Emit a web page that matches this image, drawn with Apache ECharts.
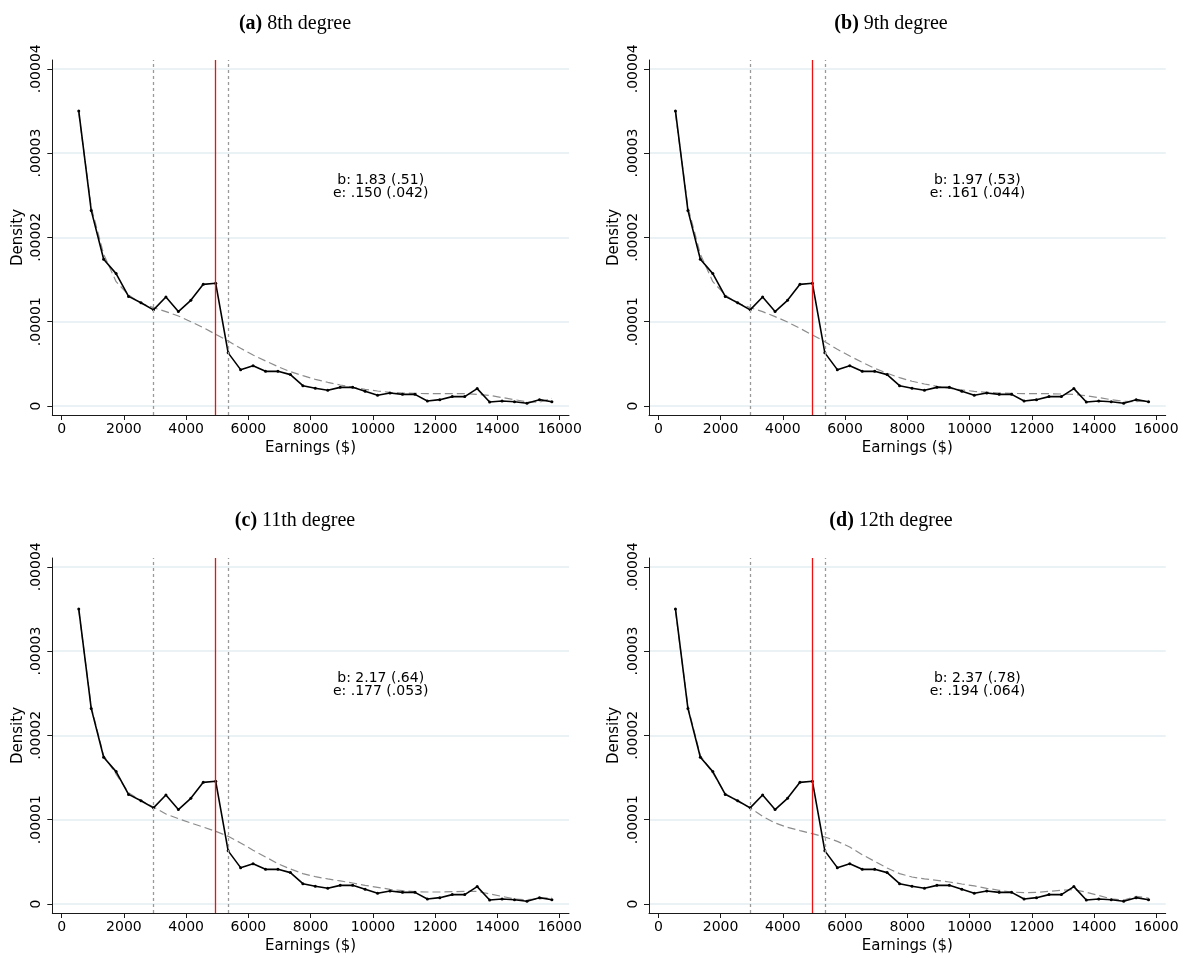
<!DOCTYPE html>
<html>
<head>
<meta charset="utf-8">
<title>Earnings density with polynomial counterfactuals</title>
<script src="https://cdn.jsdelivr.net/npm/echarts@6/dist/echarts.min.js"></script>
<style>
  html, body { margin: 0; padding: 0; background: #ffffff; }
  #chart { width: 1189px; height: 958px; }
</style>
</head>
<body>
<div id="chart"></div>
<script>
// Bin midpoints of the earnings histogram ($)
const earnings = [550, 950, 1350, 1750, 2150, 2550, 2950, 3350, 3750, 4150, 4550, 4950, 5350,
  5750, 6150, 6550, 6950, 7350, 7750, 8150, 8550, 8950, 9350, 9750, 10150, 10550, 10950,
  11350, 11750, 12150, 12550, 12950, 13350, 13750, 14150, 14550, 14950, 15350, 15750];

// Empirical density in each bin
const density = [3.50e-5, 2.32e-5, 1.74e-5, 1.57e-5, 1.30e-5, 1.225e-5, 1.14e-5, 1.293e-5, 1.12e-5,
  1.253e-5, 1.443e-5, 1.455e-5, 0.63e-5, 0.431e-5, 0.478e-5, 0.411e-5, 0.411e-5, 0.372e-5,
  0.241e-5, 0.21e-5, 0.186e-5, 0.221e-5, 0.221e-5, 0.174e-5, 0.127e-5, 0.154e-5, 0.138e-5,
  0.138e-5, 0.059e-5, 0.075e-5, 0.111e-5, 0.111e-5, 0.206e-5, 0.047e-5, 0.059e-5, 0.051e-5,
  0.032e-5, 0.075e-5, 0.051e-5];

// Counterfactual density from the polynomial fits of each degree
const fit8 = [3.47e-5, 2.36e-5, 1.80e-5, 1.475e-5, 1.317e-5, 1.218e-5, 1.166e-5, 1.119e-5, 1.068e-5,
  1.00e-5, 0.929e-5, 0.85e-5, 0.771e-5, 0.684e-5, 0.605e-5, 0.534e-5, 0.467e-5, 0.407e-5,
  0.36e-5, 0.316e-5, 0.281e-5, 0.249e-5, 0.221e-5, 0.198e-5, 0.178e-5, 0.162e-5, 0.154e-5,
  0.150e-5, 0.146e-5, 0.146e-5, 0.146e-5, 0.146e-5, 0.138e-5, 0.125e-5, 0.10e-5, 0.075e-5,
  0.05e-5, 0.045e-5, 0.09e-5];
const fit9 = [3.47e-5, 2.36e-5, 1.80e-5, 1.475e-5, 1.317e-5, 1.218e-5, 1.166e-5, 1.119e-5, 1.06e-5,
  0.996e-5, 0.921e-5, 0.842e-5, 0.763e-5, 0.672e-5, 0.593e-5, 0.518e-5, 0.447e-5, 0.388e-5,
  0.336e-5, 0.293e-5, 0.261e-5, 0.233e-5, 0.21e-5, 0.19e-5, 0.174e-5, 0.162e-5, 0.154e-5,
  0.150e-5, 0.146e-5, 0.146e-5, 0.146e-5, 0.142e-5, 0.138e-5, 0.12e-5, 0.10e-5, 0.075e-5,
  0.055e-5, 0.05e-5, 0.07e-5];
const fit11 = [3.48e-5, 2.34e-5, 1.76e-5, 1.54e-5, 1.32e-5, 1.226e-5, 1.15e-5, 1.068e-5, 1.012e-5,
  0.961e-5, 0.913e-5, 0.862e-5, 0.803e-5, 0.724e-5, 0.637e-5, 0.558e-5, 0.478e-5, 0.415e-5,
  0.36e-5, 0.324e-5, 0.297e-5, 0.273e-5, 0.249e-5, 0.221e-5, 0.198e-5, 0.174e-5, 0.158e-5,
  0.146e-5, 0.142e-5, 0.142e-5, 0.146e-5, 0.15e-5, 0.15e-5, 0.12e-5, 0.09e-5, 0.06e-5,
  0.05e-5, 0.06e-5, 0.08e-5];
const fit12 = [3.48e-5, 2.34e-5, 1.76e-5, 1.554e-5, 1.31e-5, 1.218e-5, 1.139e-5, 1.04e-5, 0.961e-5,
  0.909e-5, 0.87e-5, 0.834e-5, 0.795e-5, 0.743e-5, 0.676e-5, 0.585e-5, 0.506e-5, 0.427e-5,
  0.36e-5, 0.32e-5, 0.297e-5, 0.281e-5, 0.261e-5, 0.237e-5, 0.214e-5, 0.186e-5, 0.162e-5,
  0.142e-5, 0.134e-5, 0.138e-5, 0.15e-5, 0.162e-5, 0.17e-5, 0.14e-5, 0.10e-5, 0.06e-5,
  0.045e-5, 0.09e-5, 0.07e-5];

// Panel captions, estimates and reference lines
const panelLetters = ['(a)', '(b)', '(c)', '(d)'];
const panelCaptions = ['8th degree', '9th degree', '11th degree', '12th degree'];
const fits = [fit8, fit9, fit11, fit12];
const bunchingText = ['b: 1.83 (.51)', 'b: 1.97 (.53)', 'b: 2.17 (.64)', 'b: 2.37 (.78)'];
const elasticityText = ['e: .150 (.042)', 'e: .161 (.044)', 'e: .177 (.053)', 'e: .194 (.064)'];
const kink = 4950;
const windowBounds = [2950, 5350];
const estimateAnchor = [10250, 2.6e-5];

// Axis ticks
const xTickValues = [0, 2000, 4000, 6000, 8000, 10000, 12000, 14000, 16000];
const xTickLabels = ['0', '2000', '4000', '6000', '8000', '10000', '12000', '14000', '16000'];
const yTickValues = [0, 1e-5, 2e-5, 3e-5, 4e-5];
const yTickLabels = ['0', '.00001', '.00002', '.00003', '.00004'];

// Layout of the 2x2 panel grid
const colLeft = [52.3, 649];
const rowTop = [60, 558];
const plotW = 516.7;
const plotH = 355;
const captionX = [290, 886];
const captionTop = [8, 505];

const sans = '"DejaVu Sans", sans-serif';
const serif = '"Liberation Serif", "Times New Roman", serif';
const ink = '#000000';

function nearestLabel(values, labels, v) {
  let best = 0;
  for (let k = 1; k < values.length; k++) {
    if (Math.abs(values[k] - v) < Math.abs(values[best] - v)) best = k;
  }
  return labels[best];
}

const grids = [], xAxes = [], yAxes = [], series = [], titles = [];

for (let i = 0; i < 4; i++) {
  const c = i % 2, r = Math.floor(i / 2);
  grids.push({ left: colLeft[c], top: rowTop[r], width: plotW, height: plotH, containLabel: false });

  titles.push({
    text: '{b|' + panelLetters[i] + '} ' + panelCaptions[i],
    left: captionX[c], top: captionTop[r], textAlign: 'center',
    textStyle: {
      fontFamily: serif, fontSize: 20, fontWeight: 'normal', color: '#000', lineHeight: 22,
      rich: { b: { fontFamily: serif, fontSize: 20, fontWeight: 'bold', color: '#000', lineHeight: 22 } }
    }
  });

  xAxes.push({
    type: 'value', gridIndex: i, min: -300, max: 16300,
    name: 'Earnings ($)', nameLocation: 'middle', nameGap: 26, nameMoveOverlap: false,
    nameTextStyle: { fontFamily: sans, fontSize: 15, color: ink },
    axisLine: { show: true, onZero: false, lineStyle: { color: '#1a1a1a', width: 1 } },
    axisTick: { show: true, length: 5, customValues: xTickValues, lineStyle: { color: '#1a1a1a' } },
    axisLabel: {
      customValues: xTickValues, fontFamily: sans, fontSize: 14, color: ink, margin: 7,
      formatter: function (v) { return nearestLabel(xTickValues, xTickLabels, v); }
    },
    splitLine: { show: false }
  });

  yAxes.push({
    type: 'value', gridIndex: i, min: -1.07e-6, max: 4.104e-5,
    name: 'Density', nameLocation: 'middle', nameGap: 27, nameRotate: 90, nameMoveOverlap: false,
    nameTextStyle: { fontFamily: sans, fontSize: 15, color: ink },
    axisLine: { show: true, onZero: false, lineStyle: { color: '#1a1a1a', width: 1 } },
    axisTick: { show: true, length: 5, customValues: yTickValues, lineStyle: { color: '#1a1a1a' } },
    axisLabel: {
      customValues: yTickValues, rotate: 90, fontFamily: sans, fontSize: 14, color: ink, margin: 9,
      formatter: function (v) { return nearestLabel(yTickValues, yTickLabels, v); }
    },
    splitLine: { show: true, lineStyle: { color: '#e3eef2', width: 1.5 } }
  });

  // Reference lines: bunching window bounds (dashed) and the kink (red)
  series.push({
    type: 'line', xAxisIndex: i, yAxisIndex: i, data: [], z: 1,
    markLine: {
      silent: true, symbol: 'none', animation: false, label: { show: false },
      data: [
        { xAxis: windowBounds[0], lineStyle: { color: '#9a9a9a', type: [3, 3], width: 1.3 } },
        { xAxis: windowBounds[1], lineStyle: { color: '#9a9a9a', type: [3, 3], width: 1.3 } },
        { xAxis: kink, lineStyle: { color: '#ee1111', type: 'solid', width: 1.3 } }
      ]
    }
  });

  // Counterfactual polynomial fit
  series.push({
    type: 'line', xAxisIndex: i, yAxisIndex: i, z: 2,
    data: earnings.map((x, k) => [x, fits[i][k]]),
    showSymbol: false, symbol: 'none',
    lineStyle: { color: '#8c8c8c', width: 1.2, type: [8, 4] }
  });

  // Empirical density
  series.push({
    type: 'line', xAxisIndex: i, yAxisIndex: i, z: 3,
    data: earnings.map((x, k) => [x, density[k]]),
    symbol: 'circle', symbolSize: 3, showSymbol: true,
    itemStyle: { color: '#000' },
    lineStyle: { color: '#000', width: 1.6 }
  });
}

const chart = echarts.init(document.getElementById('chart'), null, { renderer: 'canvas' });
chart.setOption({
  animation: false,
  backgroundColor: '#ffffff',
  title: titles,
  grid: grids,
  xAxis: xAxes,
  yAxis: yAxes,
  series: series
});

// Estimates of excess bunching and elasticity, placed in data coordinates of each panel
const notes = [];
for (let i = 0; i < 4; i++) {
  const p = chart.convertToPixel({ gridIndex: i }, estimateAnchor);
  notes.push({
    type: 'text', x: p[0], y: p[1], z: 10, silent: true,
    style: {
      text: bunchingText[i] + '\n' + elasticityText[i],
      align: 'center', verticalAlign: 'middle',
      fontFamily: sans, fontSize: 14, lineHeight: 13, fill: ink
    }
  });
}
chart.setOption({ graphic: notes });
</script>
</body>
</html>
